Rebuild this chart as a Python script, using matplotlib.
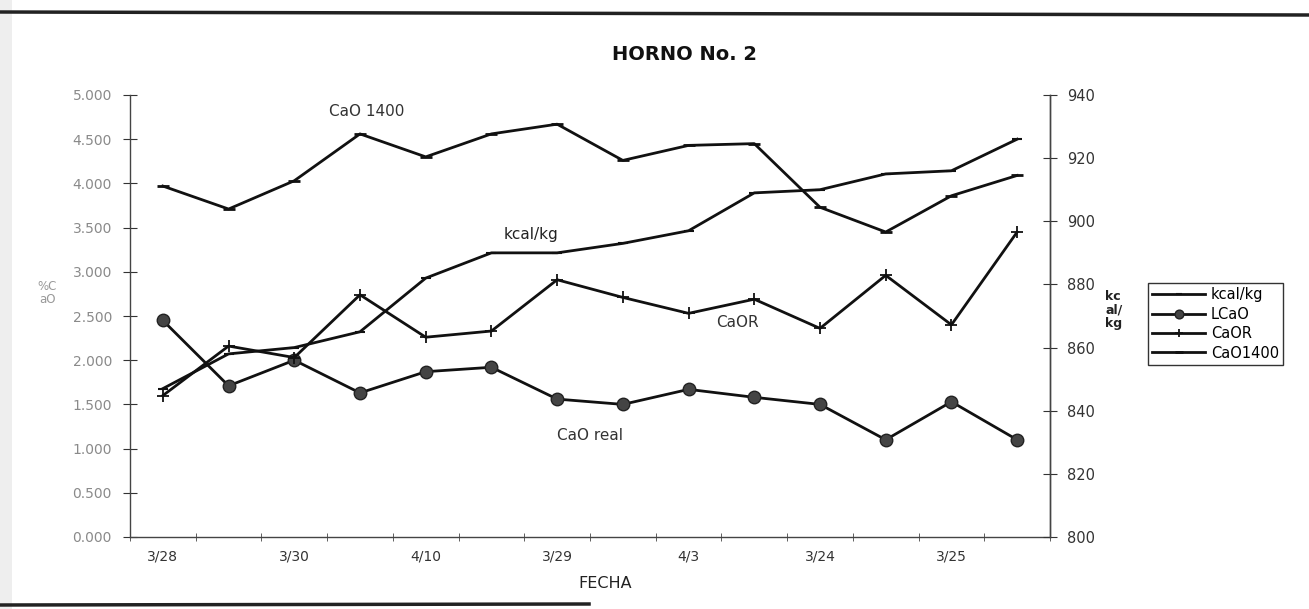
import numpy as np
import matplotlib.pyplot as plt
from matplotlib.ticker import FormatStrFormatter

plt.rcParams['font.family'] = ['DejaVu Sans']

fechas = ["3/28", "", "3/30", "", "4/10", "", "3/29", "", "4/3", "", "3/24", "", "3/25", ""]
kcal = [847, 858, 860, 865, 882, 890, 890, 893, 897, 909, 910, 915, 916, 926]
lcao = [2.45, 1.71, 2.00, 1.63, 1.87, 1.92, 1.56, 1.50, 1.67, 1.58, 1.50, 1.10, 1.53, 1.10]
caor = [1.60, 2.16, 2.03, 2.74, 2.26, 2.33, 2.91, 2.71, 2.53, 2.69, 2.36, 2.96, 2.40, 3.45]
cao1400 = [3.97, 3.71, 4.03, 4.56, 4.30, 4.56, 4.67, 4.26, 4.43, 4.45, 3.73, 3.45, 3.86, 4.09]

x = np.arange(len(fechas))

fig = plt.figure(figsize=(13.09, 6.09), dpi=100)
ax = fig.add_axes([130 / 1309, 1 - 537 / 609, 920 / 1309, 442 / 609])
ax2 = ax.twinx()

l2, = ax.plot(x, lcao, '-o', color='#111111', lw=2, ms=9, mfc='#444444', mec='#222222', label='LCaO')
l3, = ax.plot(x, caor, '-+', color='#111111', lw=2, ms=8, mew=1.3, label='CaOR')
l4, = ax.plot(x, cao1400, '-_', color='#111111', lw=2, ms=9, mew=2, label='CaO1400')
l1, = ax2.plot(x, kcal, '-_', color='#111111', lw=2, ms=7, mew=1.5, label='kcal/kg')

ax.set_xlim(-0.5, len(fechas) - 0.5)
ax.set_ylim(0, 5)
ax2.set_ylim(800, 940)
ax.set_yticks(np.arange(0, 5.01, 0.5))
ax2.set_yticks(np.arange(800, 941, 20))
ax.yaxis.set_major_formatter(FormatStrFormatter('%.3f'))

ax.set_xticks(x)
ax.set_xticklabels(fechas)
ax.set_xticks(np.arange(-0.5, len(fechas), 1), minor=True)
ax.tick_params(axis='x', which='major', length=0, pad=9, labelsize=10, labelcolor='#333333')
ax.tick_params(axis='x', which='minor', length=6, direction='inout', color='#444444')
ax.tick_params(axis='y', length=10, direction='inout', pad=8, labelsize=10, labelcolor='#8a8a8a', color='#333333')
ax2.tick_params(axis='y', length=10, direction='inout', pad=7, labelsize=10.5, labelcolor='#333333', color='#333333')

for a in (ax, ax2):
    a.spines['top'].set_visible(False)
    for s in ('left', 'right', 'bottom'):
        a.spines[s].set_color('#444444')
        a.spines[s].set_linewidth(1.0)
ax2.spines['left'].set_visible(False)
ax2.spines['bottom'].set_visible(False)

ax.text(3.1, 4.81, 'CaO 1400', fontsize=11, color='#333333', ha='center', va='center')
ax.text(5.6, 3.42, 'kcal/kg', fontsize=11, color='#222222', ha='center', va='center')
ax.text(8.75, 2.43, 'CaOR', fontsize=11, color='#333333', ha='center', va='center')
ax.text(6.5, 1.15, 'CaO real', fontsize=11, color='#333333', ha='center', va='center')

fig.text(684 / 1309, 1 - 55 / 609, 'HORNO No. 2', fontsize=14, fontweight='bold', color='#111111',
         ha='center', va='center')
fig.text(605 / 1309, 1 - 583 / 609, 'FECHA', fontsize=11.5, color='#222222', ha='center', va='center')
fig.text(47 / 1309, 1 - 293 / 609, '%C\naO', fontsize=8.5, color='#999999', ha='center', va='center', linespacing=1.0)
fig.text(1105 / 1309, 1 - 310 / 609, 'kc\nal/\nkg', fontsize=9, fontweight='bold', color='#222222',
         ha='left', va='center', linespacing=1.05)

fig.legend(handles=[l1, l2, l3, l4], loc='upper left', bbox_to_anchor=(1148 / 1309, 1 - 283 / 609),
           fontsize=10.5, frameon=True, fancybox=False, edgecolor='#333333', handlelength=3.6,
           markerscale=0.7, borderpad=0.3, labelspacing=0.3, handletextpad=0.4, borderaxespad=0,
           framealpha=1)

# bordes del escaneo
fig.add_artist(plt.Line2D([0, 1], [1 - 12 / 609, 1 - 15 / 609], color='#222222', lw=2.5))
fig.add_artist(plt.Line2D([0, 0.45], [1 - 605 / 609, 1 - 604 / 609], color='#222222', lw=2.5))
fig.add_artist(plt.Rectangle((0, 0), 12 / 1309, 1, color='#eeeeee', lw=0))

fig.savefig('out.png', dpi=100)
